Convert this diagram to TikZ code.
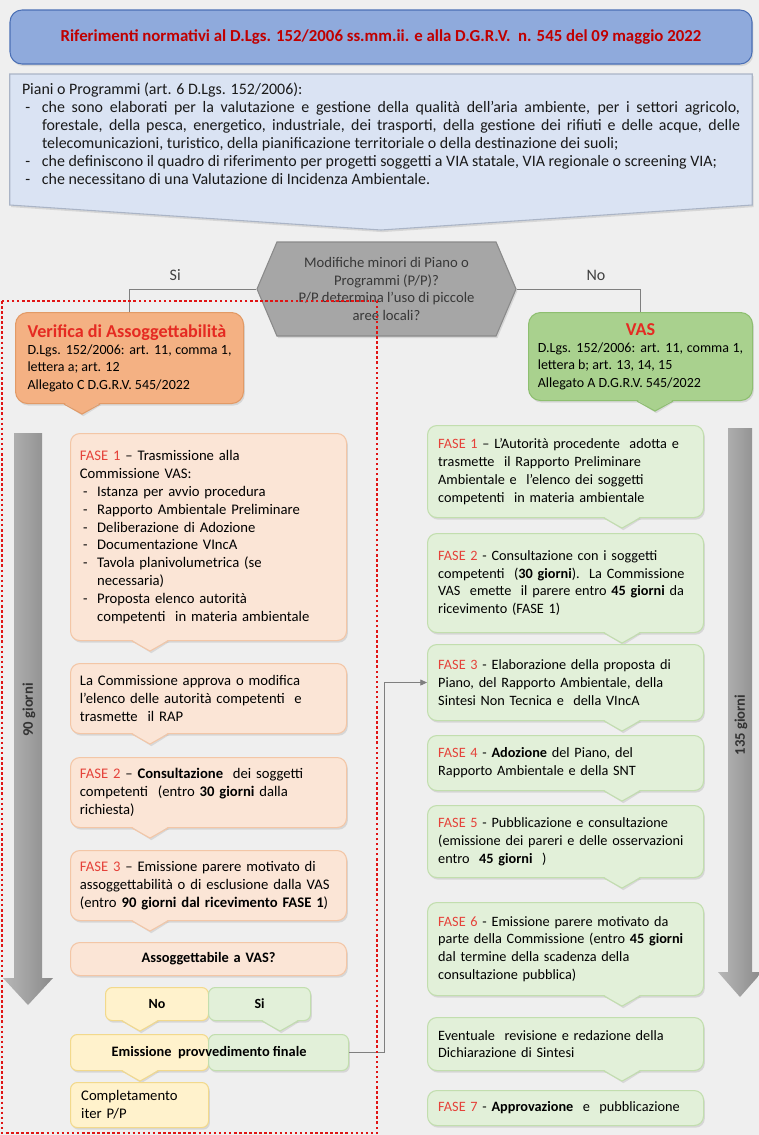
\documentclass[tikz,border=0pt]{standalone}
\usepackage{fontspec}
\setmainfont{Carlito}
\usetikzlibrary{arrows.meta,positioning,shapes.symbols,shadows,backgrounds,calc}
\definecolor{bgpage}{HTML}{EFEFEF}
\definecolor{titleblue}{HTML}{8FAADC}
\definecolor{titleedge}{HTML}{4A6FB5}
\definecolor{paleblue}{HTML}{DAE3F3}
\definecolor{paleedge}{HTML}{AAB4C6}
\definecolor{hexgrey}{HTML}{A6A6A6}
\definecolor{hexedge}{HTML}{8A8A8A}
\definecolor{nodeorange}{HTML}{F4B183}
\definecolor{orangeedge}{HTML}{E29A66}
\definecolor{nodegreen}{HTML}{A9D18E}
\definecolor{greenedge}{HTML}{8EBF70}
\definecolor{peach}{HTML}{FBE5D6}
\definecolor{peachedge}{HTML}{F3C6A6}
\definecolor{palegreen}{HTML}{E2F0D9}
\definecolor{palegreenedge}{HTML}{C2DEAE}
\definecolor{paleyellow}{HTML}{FFF2CC}
\definecolor{yellowedge}{HTML}{F2D98C}
\definecolor{darkred}{HTML}{C00000}
\definecolor{fasered}{HTML}{E5423A}
\definecolor{vred}{HTML}{E52A22}
\definecolor{framered}{HTML}{E01414}
\definecolor{linegrey}{HTML}{7F7F7F}

\newcommand{\fase}[1]{\textcolor{fasered}{FASE #1}}
\newcommand{\dashitem}[1][13pt]{\par\hangindent=#1\hangafter=1\noindent\makebox[#1][l]{\hspace{2.5pt}-}}
% pointer under a callout box: node, offset from left edge (px), fill, edge
\newcommand{\tail}[4]{%
  \fill[#3, drop shadow={opacity=0.2,shadow xshift=1pt,shadow yshift=-1.6pt}]
    (#1.south west) ++(#2-18,-1.3) -- ++(18,11.3) -- ++(18,-11.3) -- cycle;
  \draw[#4, line width=0.8pt, line join=round]
    (#1.south west) ++(#2-18,0) -- ++(18,10) -- ++(18,-10);}

\begin{document}
\begin{tikzpicture}[
  x=0.75pt, y=-0.75pt,
  boxsize/.style 2 args={minimum width=#1*0.75pt, minimum height=#2*0.75pt},
  shadowed/.style={drop shadow={opacity=0.22, shadow xshift=1pt, shadow yshift=-1.6pt}},
  phase/.style={rectangle, rounded corners=7pt, anchor=north west, shadowed, line width=0.8pt,
    inner xsep=8pt, inner ysep=2pt, text width=191pt, align=left, font=\fontsize{10.7}{13.4}\selectfont},
  peachbox/.style={phase, fill=peach, draw=peachedge, inner xsep=7pt, text width=193pt,
    font=\fontsize{11}{13.4}\selectfont},
  leafbox/.style={phase, fill=palegreen, draw=palegreenedge},
  yellowbox/.style={phase, fill=paleyellow, draw=yellowedge, rounded corners=5pt},
  tipbox/.style={phase, fill=palegreen, draw=palegreenedge, rounded corners=5pt},
  callbox/.style={rectangle, rounded corners=9pt, anchor=north west, shadowed, line width=0.8pt,
    inner xsep=9pt, inner ysep=3pt, align=justify, font=\fontsize{10.5}{13}\selectfont},
  conn/.style={draw=linegrey, line width=0.6pt},
  lbl/.style={font=\fontsize{12}{14}\selectfont, text=black!75},
  daylabel/.style={font=\bfseries\fontsize{11}{13}\selectfont, text=black!80, rotate=90},
  daybar/.style={left color=black!28, right color=black!46},
]
  \useasboundingbox (0,0) rectangle (759,1135);
  \begin{scope}[on background layer]
    \fill[bgpage] (0,0) rectangle (759,1135);
  \end{scope}

  % duration arrows
  \shade[daybar] (14,433) -- (42,433) -- (42,978) -- (53,978) -- (28,1005) -- (3,978) -- (14,978) -- cycle;
  \shade[daybar] (728,428) -- (752,428) -- (752,972) -- (762,972) -- (740,997) -- (718,972) -- (728,972) -- cycle;
  \node[daylabel] (giorni90) at (29,710) {90 giorni};
  \node[daylabel] (giorni135) at (741,725) {135 giorni};

  % header
  \node[rectangle, rounded corners=9pt, fill=titleblue, draw=titleedge, line width=0.8pt, shadowed,
    boxsize={742}{54}, font=\bfseries\fontsize{12.6}{15}\selectfont, text=darkred] (title) at (381,37)
    {Riferimenti normativi al D.Lgs. 152/2006 ss.mm.ii. e alla D.G.R.V.\ \ n. 545 del 09 maggio 2022};

  \node[anchor=north, text width=538.5pt, inner xsep=9pt, inner ysep=0pt, align=justify,
    minimum height=118*0.75pt, font=\fontsize{11.95}{13.5}\selectfont, text=black!90] (piani) at (381,74)
    {Piani o Programmi (art. 6 D.Lgs. 152/2006):%
    \dashitem[15pt]che sono elaborati per la valutazione e gestione della qualità dell'aria ambiente, per i settori agricolo,\linebreak
    forestale, della pesca, energetico, industriale, dei trasporti, della gestione dei rifiuti e delle acque, delle\linebreak
    telecomunicazioni, turistico, della pianificazione territoriale o della destinazione dei suoli;%
    \dashitem[15pt]che definiscono il quadro di riferimento per progetti soggetti a VIA statale, VIA regionale o screening VIA;%
    \dashitem[15pt]che necessitano di una Valutazione di Incidenza Ambientale.\par};
  \begin{scope}[on background layer]
    \path[fill=paleblue, draw=paleedge, line width=0.8pt, shadowed]
      (piani.north west) -- (piani.north east) -- ++(0,131) -- ($(piani.north)+(0,156)$)
      -- ($(piani.north west)+(0,131)$) -- cycle;
  \end{scope}

  % decision
  \node[signal, signal to=west and east, signal pointer angle=134, fill=hexgrey, draw=hexedge,
    line width=0.8pt, shadowed, boxsize={259}{94}, inner sep=0pt, align=center,
    font=\fontsize{11}{13.2}\selectfont, text=black!78] (hex) at (386.5,289)
    {Modifiche minori di Piano o\\Programmi (P/P)?\\P/P determina l’uso di piccole\\aree locali?};

  \node[callbox, fill=nodeorange, draw=orangeedge, boxsize={228}{91}, text width=153pt] (verif) at (15,312)
    {{\bfseries\fontsize{13.6}{15}\selectfont\color{vred}Verifica di Assoggettabilità\par}
    D.Lgs. 152/2006: art. 11, comma 1,\linebreak lettera a; art. 12\\Allegato C D.G.R.V. 545/2022};
  \tail{verif}{67}{nodeorange}{orangeedge}
  \node[callbox, fill=nodegreen, draw=greenedge, boxsize={224}{88}, inner xsep=7pt, text width=154pt] (vas) at (528,312)
    {{\centering\bfseries\fontsize{13.6}{15}\selectfont\color{vred}VAS\par}
    D.Lgs. 152/2006: art. 11, comma 1,\linebreak lettera b; art. 13, 14, 15\\Allegato A D.G.R.V. 545/2022};
  \tail{vas}{127}{nodegreen}{greenedge}

  \draw[conn] (hex.west) -| node[pos=0.32, above=3pt, lbl] {Si} (verif.north);
  \draw[conn] (hex.east) -| node[pos=0.32, above=3pt, lbl] {No} (vas.north);

  % verifica di assoggettabilita
  \node[peachbox, boxsize={276}{207}] (fase1v) at (70,433)
    {\fase{1} -- Trasmissione alla\newline Commissione VAS:%
    \dashitem Istanza per avvio procedura%
    \dashitem Rapporto Ambientale Preliminare%
    \dashitem Deliberazione di Adozione%
    \dashitem Documentazione VIncA%
    \dashitem Tavola planivolumetrica (se\newline necessaria)%
    \dashitem Proposta elenco autorità\newline competenti\ \ in materia ambientale\par};
  \tail{fase1v}{80}{peach}{peachedge}
  \node[peachbox, boxsize={276}{70}] (rapv) at (70,663)
    {La Commissione approva o modifica\\l’elenco delle autorità competenti\ \ e\\trasmette\ \ il RAP};
  \tail{rapv}{80}{peach}{peachedge}
  \node[peachbox, boxsize={276}{70}] (fase2v) at (70,757)
    {\fase{2} -- \textbf{Consultazione}\ \ dei soggetti\\competenti\ \ (entro \textbf{30 giorni} dalla\\richiesta)};
  \tail{fase2v}{80}{peach}{peachedge}
  \node[peachbox, boxsize={276}{70}] (fase3v) at (70,850)
    {\fase{3} -- Emissione parere motivato di\\assoggettabilità o di esclusione dalla VAS\\(entro \textbf{90 giorni dal ricevimento FASE 1})};
  \tail{fase3v}{80}{peach}{peachedge}
  \node[peachbox, boxsize={276}{33}, align=center, font=\bfseries\fontsize{10.8}{13}\selectfont] (askvas) at (70,942)
    {Assoggettabile a VAS?};

  \node[yellowbox, boxsize={103}{33}, text width=61pt, align=center, font=\bfseries\fontsize{10.5}{13}\selectfont] (no) at (105,987) {No};
  \tail{no}{35}{paleyellow}{yellowedge}
  \node[tipbox, boxsize={102}{33}, text width=60.5pt, align=center, font=\bfseries\fontsize{10.5}{13}\selectfont] (si) at (208,987) {Si};
  \tail{si}{72}{palegreen}{palegreenedge}

  \node[yellowbox, boxsize={138}{36}, text width=87.5pt] (emisY) at (70,1034) {};
  \tail{emisY}{70}{paleyellow}{yellowedge}
  \node[tipbox, boxsize={140}{36}, text width=89pt] (emisG) at (208,1034) {};
  \node[font=\bfseries\fontsize{10.8}{13}\selectfont, inner sep=0pt] (emis) at (emisY.east) {Emissione\ \ provvedimento finale};
  \node[yellowbox, boxsize={138}{45}, text width=87.5pt, font=\fontsize{11}{13.4}\selectfont] (compl) at (70,1082) {Completamento\\iter P/P};

  % VAS
  \node[leafbox, boxsize={276}{92}] (fase1a) at (427,425)
    {\fase{1} -- L’Autorità procedente\ \ adotta e\\trasmette\ \ il Rapporto Preliminare\\Ambientale e\ \ l’elenco dei soggetti\\competenti\ \ in materia ambientale};
  \tail{fase1a}{195}{palegreen}{palegreenedge}
  \node[leafbox, boxsize={276}{99}] (fase2a) at (427,533)
    {\fase{2} - Consultazione con i soggetti\\competenti\ \ (\textbf{30 giorni}).\ \ La Commissione\\VAS\ \ emette\ \ il parere entro \textbf{45 giorni} da\\ricevimento (FASE 1)};
  \tail{fase2a}{195}{palegreen}{palegreenedge}
  \node[leafbox, boxsize={276}{76}] (fase3a) at (427,644)
    {\fase{3} - Elaborazione della proposta di\\Piano, del Rapporto Ambientale, della\\Sintesi Non Tecnica e\ \ della VIncA};
  \tail{fase3a}{195}{palegreen}{palegreenedge}
  \node[leafbox, boxsize={276}{55}] (fase4a) at (427,735)
    {\fase{4} - \textbf{Adozione} del Piano, del\\Rapporto Ambientale e della SNT};
  \tail{fase4a}{195}{palegreen}{palegreenedge}
  \node[leafbox, boxsize={276}{72}] (fase5a) at (427,805)
    {\fase{5} - Pubblicazione e consultazione\\(emissione dei pareri e delle osservazioni\\entro\ \ \textbf{45 giorni}\ \ )};
  \tail{fase5a}{195}{palegreen}{palegreenedge}
  \node[leafbox, boxsize={276}{93}] (fase6a) at (427,902)
    {\fase{6} - Emissione parere motivato da\\parte della Commissione (entro \textbf{45 giorni}\\dal termine della scadenza della\\consultazione pubblica)};
  \tail{fase6a}{195}{palegreen}{palegreenedge}
  \node[leafbox, boxsize={276}{53}] (revis) at (427,1017)
    {Eventuale\ \ revisione e redazione della\\Dichiarazione di Sintesi};
  \tail{revis}{195}{palegreen}{palegreenedge}
  \node[leafbox, boxsize={276}{35}] (fase7a) at (427,1090)
    {\fase{7} - \textbf{Approvazione}\ \ e\ \ pubblicazione};

  \draw[conn, -{Triangle[length=5pt,width=4.5pt]}] (emisG.east) -- ++(35,0) |- (fase3a.west);

  % perimeter of the screening procedure
  \draw[framered, line width=2pt, dash pattern=on 1.9pt off 1.9pt] (2,301) rectangle (377,1133);
\end{tikzpicture}
\end{document}
